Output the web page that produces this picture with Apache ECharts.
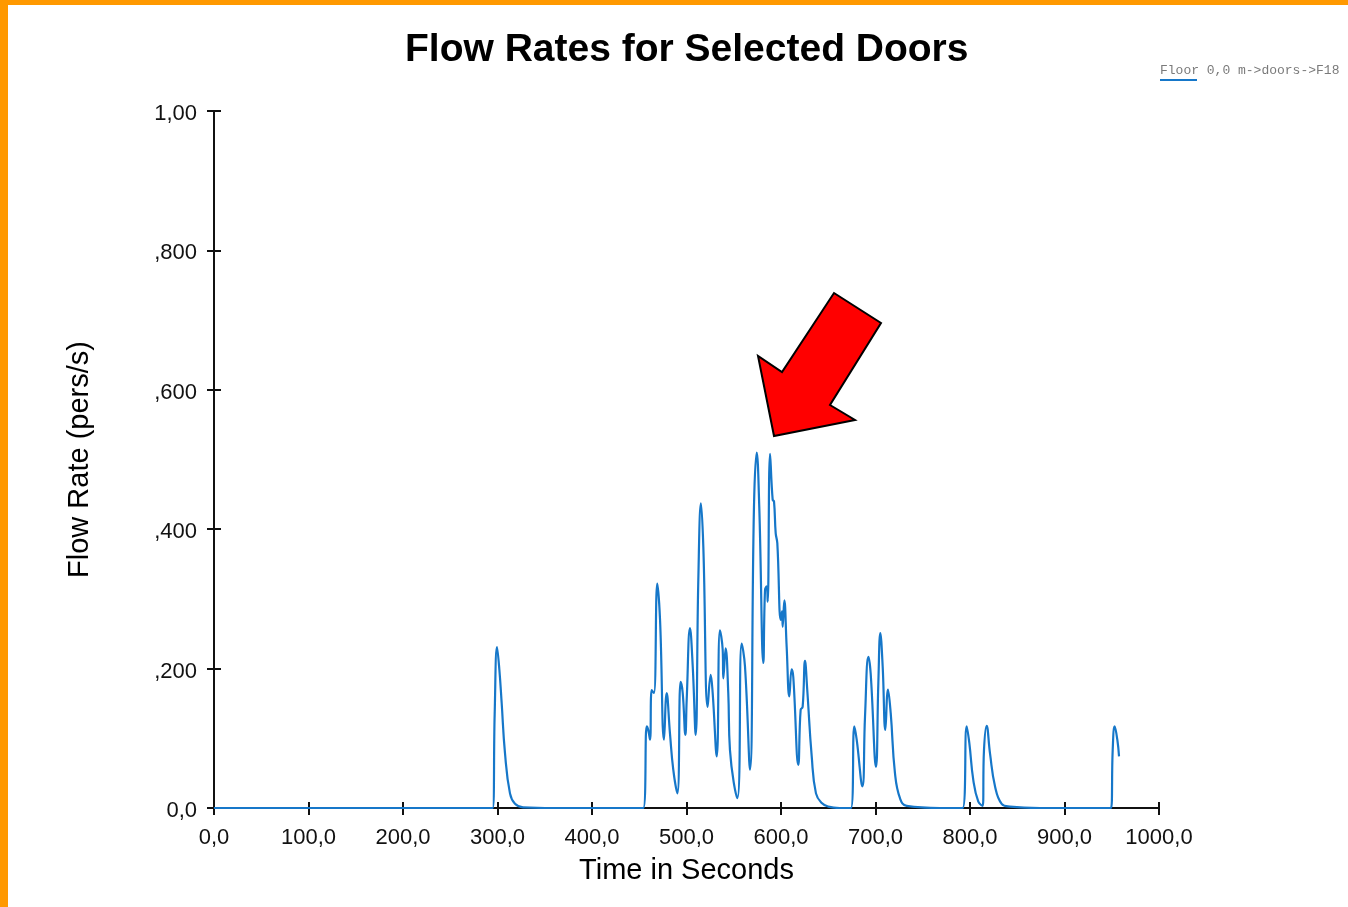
<!DOCTYPE html>
<html>
<head>
<meta charset="utf-8">
<script src="https://cdn.jsdelivr.net/npm/echarts@6/dist/echarts.min.js"></script>
<style>
html,body{margin:0;padding:0;background:#fff;}
#main{width:1348px;height:907px;}
</style>
</head>
<body>
<div id="main"></div>
<script>
var titleText = 'Flow Rates for Selected Doors';
var seriesName = 'Floor 0,0 m->doors->F18';
var xAxisName = 'Time in Seconds';
var yAxisName = 'Flow Rate (pers/s)';
var yTickLabels = ['0,0', ',200', ',400', ',600', ',800', '1,00'];
var xTickLabels = ['0,0','100,0','200,0','300,0','400,0','500,0','600,0','700,0','800,0','900,0','1000,0'];

var times = [0, 294.9, 297, 299.5, 302, 304.4, 307.9, 313.2, 318.5, 327, 359,
  454.3, 457.9, 459.5, 461.4, 463.2, 465.6, 469.1, 472, 476.2, 479,
  482.5, 486, 490.3, 493.8, 496, 498.8, 500.2, 503.7, 506.6, 509.7,
  512.5, 515.3, 517.8, 522.4, 525.6, 527.7, 532, 535.4, 538.3, 539,
  541.4, 544.2, 546, 553.8, 558.4, 561.9, 567.2, 571.4, 574.3, 577,
  581.3, 583.1, 584.8, 585.9, 588.4, 591.2, 592.6, 594.4, 596.1, 599.7,
  601.1, 601.8, 603.5, 606, 608.8, 611.3, 613, 618.3, 620.8, 622.9,
  625.4, 627.8, 632.5, 637, 643.1, 650, 662,
  674, 677.6, 680.1, 686.1, 688.9, 692.5, 694.9, 700.5, 703, 705.1,
  707.6, 710.4, 713.2, 716.1, 720.6, 725.9, 733, 768,
  792.2, 796.5, 799.3, 803.5, 808.8, 813.4, 814.8, 817.6, 821.2, 826.5, 833.5, 842.3, 874,
  949.2, 951, 953.1, 955.9, 957.7];

var flows = [0, 0, 0.134, 0.231, 0.198, 0.151, 0.079, 0.021, 0.006, 0.001, 0,
  0, 0.117, 0.112, 0.098, 0.169, 0.165, 0.322, 0.27, 0.098, 0.165,
  0.107, 0.055, 0.021, 0.181, 0.165, 0.105, 0.155, 0.258, 0.203, 0.105,
  0.327, 0.437, 0.375, 0.145, 0.191, 0.165, 0.074, 0.255, 0.227, 0.186,
  0.229, 0.165, 0.083, 0.014, 0.236, 0.203, 0.055, 0.432, 0.51, 0.432,
  0.208, 0.313, 0.318, 0.296, 0.508, 0.442, 0.44, 0.394, 0.38, 0.27,
  0.282, 0.26, 0.298, 0.231, 0.16, 0.199, 0.188, 0.062, 0.141, 0.145,
  0.211, 0.169, 0.074, 0.021, 0.007, 0.002, 0,
  0, 0.117, 0.098, 0.031, 0.131, 0.217, 0.193, 0.059, 0.179, 0.251,
  0.203, 0.112, 0.17, 0.136, 0.05, 0.014, 0.003, 0,
  0, 0.117, 0.093, 0.04, 0.009, 0.003, 0.083, 0.118, 0.078, 0.031, 0.006, 0.002, 0,
  0, 0.083, 0.117, 0.098, 0.074];

var lineColor = '#1677c9';
var data = times.map(function (t, i) { return [t, flows[i]]; });

var chart = echarts.init(document.getElementById('main'), null, {renderer: 'canvas'});
var baseFont = 'Liberation Sans, Arial, sans-serif';
var axisCommon = {
  type: 'value', min: 0,
  axisLine: {show: true, lineStyle: {color: '#111', width: 2}},
  splitLine: {show: false}
};
chart.setOption({
  backgroundColor: '#fff',
  animation: false,
  title: {
    text: titleText, left: 400, top: 26,
    textStyle: {fontFamily: baseFont, fontSize: 39, fontWeight: 'bold', color: '#000'}
  },
  grid: {left: 214, right: 189, top: 111, bottom: 99, containLabel: false},
  xAxis: [
    Object.assign({}, axisCommon, {
      max: 1000, interval: 100, position: 'bottom',
      axisTick: {show: true, inside: false, length: 7, lineStyle: {color: '#111', width: 2}},
      axisLabel: {fontFamily: baseFont, fontSize: 22, color: '#111', margin: 19,
        formatter: function (v) { return xTickLabels[Math.round(v / 100)]; }},
      name: xAxisName, nameLocation: 'middle', nameGap: 48,
      nameTextStyle: {fontFamily: baseFont, fontSize: 29, color: '#000'}
    }),
    Object.assign({}, axisCommon, {
      max: 1000, interval: 100, position: 'bottom', offset: 0,
      axisTick: {show: true, inside: true, length: 6, lineStyle: {color: '#111', width: 2}},
      axisLabel: {show: false}
    })
  ],
  yAxis: [
    Object.assign({}, axisCommon, {
      max: 1, interval: 0.2, position: 'left',
      axisTick: {show: true, inside: false, length: 7, lineStyle: {color: '#111', width: 2}},
      axisLabel: {fontFamily: baseFont, fontSize: 22, color: '#111', margin: 17,
        lineHeight: 30, verticalAlign: 'top', padding: [-12, 0, 0, 0],
        formatter: function (v) { return yTickLabels[Math.round(v / 0.2)]; }},
      name: yAxisName, nameLocation: 'middle', nameGap: 120, nameRotate: 90,
      nameTextStyle: {fontFamily: baseFont, fontSize: 29, color: '#000'}
    }),
    Object.assign({}, axisCommon, {
      max: 1, interval: 0.2, position: 'left', offset: 0,
      axisTick: {show: true, inside: true, length: 7, lineStyle: {color: '#111', width: 2}},
      axisLabel: {show: false}
    })
  ],
  series: [{
    name: seriesName, type: 'line', data: data,
    xAxisIndex: 0, yAxisIndex: 0,
    showSymbol: false, smooth: 0.45,
    lineStyle: {color: lineColor, width: 2.2},
    itemStyle: {color: lineColor}, z: 3
  }],
  graphic: [
    {type: 'rect', shape: {x: 0, y: 0, width: 1348, height: 5}, style: {fill: '#ff9900'}, silent: true, z: 100},
    {type: 'rect', shape: {x: 0, y: 0, width: 8, height: 907}, style: {fill: '#ff9900'}, silent: true, z: 100},
    {type: 'text', left: 1160, top: 64, style: {text: seriesName, font: '13px "Liberation Mono", "DejaVu Sans Mono", monospace', fill: '#7a7a7a'}, z: 100},
    {type: 'line', shape: {x1: 1160, y1: 80, x2: 1197, y2: 80}, style: {stroke: lineColor, lineWidth: 2}, z: 100},
    {type: 'polygon',
      shape: {points: [[834,293],[881,323],[830,405],[855,420],[774,436],[758,356],[782,372]]},
      style: {fill: '#ff0000', stroke: '#000', lineWidth: 2, lineJoin: 'miter'}, z: 100}
  ]
});
</script>
</body>
</html>
